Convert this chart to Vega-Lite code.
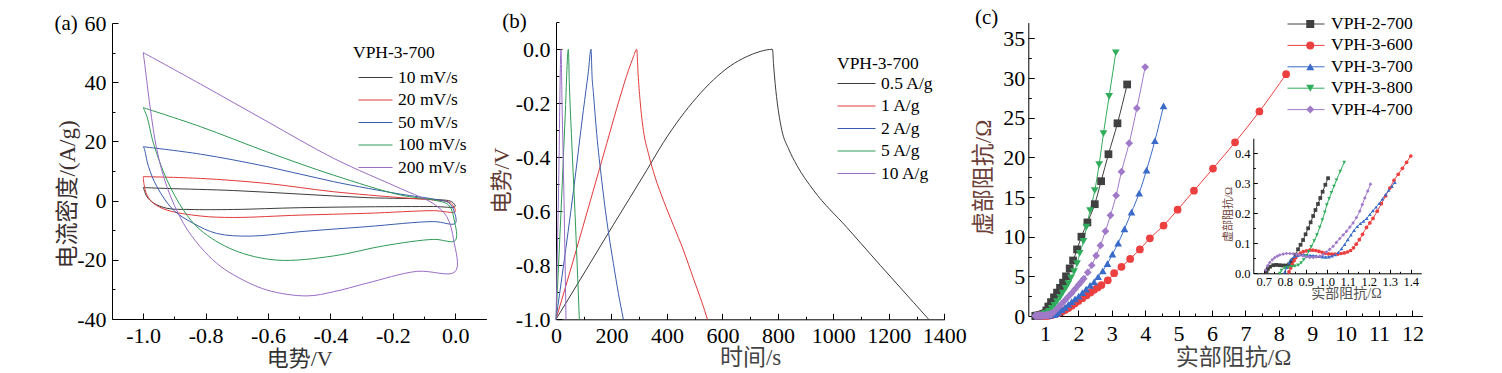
{
  "$schema": "https://vega.github.io/schema/vega-lite/v6.json",
  "width": 1502,
  "height": 373,
  "autosize": "none",
  "padding": 0,
  "background": "#ffffff",
  "config": {
    "view": {"stroke": null},
    "axis": {"grid": false, "domainColor": "#000000", "tickColor": "#000000", "labelColor": "#000000", "labelFont": "Liberation Serif", "titleFont": "Liberation Serif, Noto Sans CJK SC", "titleFontWeight": "normal", "labelFlush": false, "labelOverlap": false, "domainWidth": 1, "tickWidth": 1},
    "legend": {"labelFont": "Liberation Serif", "titleFont": "Liberation Serif", "labelColor": "#000000", "titleColor": "#000000", "titleFontWeight": "normal", "labelFontSize": 17.5, "titleFontSize": 17.5, "padding": 0, "clipHeight": 20, "orient": "none"}
  },
  "datasets": {
    "cv": [
      {"rate": "10 mV/s", "k": 1, "v": -1.0, "j": 4.4}, {"rate": "10 mV/s", "k": 2, "v": -0.924, "j": 4.1}, {"rate": "10 mV/s", "k": 3, "v": -0.71, "j": 3.4}, {"rate": "10 mV/s", "k": 4, "v": -0.497, "j": 2.2}, {"rate": "10 mV/s", "k": 5, "v": -0.283, "j": 1.0}, {"rate": "10 mV/s", "k": 6, "v": -0.069, "j": 0.4}, {"rate": "10 mV/s", "k": 7, "v": -0.011, "j": -0.4}, {"rate": "10 mV/s", "k": 8, "v": 0.0, "j": -2.0}, {"rate": "10 mV/s", "k": 9, "v": -0.069, "j": -2.0}, {"rate": "10 mV/s", "k": 10, "v": -0.283, "j": -2.1}, {"rate": "10 mV/s", "k": 11, "v": -0.5, "j": -2.4}, {"rate": "10 mV/s", "k": 12, "v": -0.71, "j": -3.0}, {"rate": "10 mV/s", "k": 13, "v": -0.85, "j": -3.0}, {"rate": "10 mV/s", "k": 14, "v": -0.924, "j": -2.6}, {"rate": "10 mV/s", "k": 15, "v": -0.967, "j": -0.8}, {"rate": "10 mV/s", "k": 16, "v": -0.988, "j": 1.3}, {"rate": "10 mV/s", "k": 17, "v": -0.997, "j": 3.6}, {"rate": "10 mV/s", "k": 18, "v": -1.0, "j": 4.4},
      {"rate": "20 mV/s", "k": 1, "v": -1.0, "j": 8.1}, {"rate": "20 mV/s", "k": 2, "v": -0.817, "j": 7.5}, {"rate": "20 mV/s", "k": 3, "v": -0.604, "j": 5.8}, {"rate": "20 mV/s", "k": 4, "v": -0.39, "j": 3.0}, {"rate": "20 mV/s", "k": 5, "v": -0.176, "j": 1.0}, {"rate": "20 mV/s", "k": 6, "v": -0.069, "j": 0.2}, {"rate": "20 mV/s", "k": 7, "v": -0.016, "j": -0.7}, {"rate": "20 mV/s", "k": 8, "v": 0.0, "j": -3.7}, {"rate": "20 mV/s", "k": 9, "v": -0.069, "j": -3.4}, {"rate": "20 mV/s", "k": 10, "v": -0.283, "j": -4.3}, {"rate": "20 mV/s", "k": 11, "v": -0.497, "j": -4.9}, {"rate": "20 mV/s", "k": 12, "v": -0.71, "j": -5.7}, {"rate": "20 mV/s", "k": 13, "v": -0.817, "j": -5.2}, {"rate": "20 mV/s", "k": 14, "v": -0.924, "j": -3.2}, {"rate": "20 mV/s", "k": 15, "v": -0.967, "j": -0.9}, {"rate": "20 mV/s", "k": 16, "v": -0.988, "j": 1.9}, {"rate": "20 mV/s", "k": 17, "v": -0.997, "j": 5.3}, {"rate": "20 mV/s", "k": 18, "v": -1.0, "j": 8.1},
      {"rate": "50 mV/s", "k": 1, "v": -1.0, "j": 18.2}, {"rate": "50 mV/s", "k": 2, "v": -0.817, "j": 15.7}, {"rate": "50 mV/s", "k": 3, "v": -0.604, "j": 11.5}, {"rate": "50 mV/s", "k": 4, "v": -0.39, "j": 6.4}, {"rate": "50 mV/s", "k": 5, "v": -0.176, "j": 2.2}, {"rate": "50 mV/s", "k": 6, "v": -0.069, "j": 0.5}, {"rate": "50 mV/s", "k": 7, "v": -0.021, "j": -0.7}, {"rate": "50 mV/s", "k": 8, "v": -0.003, "j": -3.7}, {"rate": "50 mV/s", "k": 9, "v": 0.0, "j": -7.7}, {"rate": "50 mV/s", "k": 10, "v": -0.069, "j": -7.1}, {"rate": "50 mV/s", "k": 11, "v": -0.283, "j": -8.8}, {"rate": "50 mV/s", "k": 12, "v": -0.497, "j": -10.5}, {"rate": "50 mV/s", "k": 13, "v": -0.657, "j": -12.0}, {"rate": "50 mV/s", "k": 14, "v": -0.764, "j": -11.1}, {"rate": "50 mV/s", "k": 15, "v": -0.839, "j": -7.7}, {"rate": "50 mV/s", "k": 16, "v": -0.903, "j": -3.2}, {"rate": "50 mV/s", "k": 17, "v": -0.956, "j": 4.7}, {"rate": "50 mV/s", "k": 18, "v": -0.983, "j": 11.5}, {"rate": "50 mV/s", "k": 19, "v": -0.997, "j": 17.7}, {"rate": "50 mV/s", "k": 20, "v": -1.0, "j": 18.2},
      {"rate": "100 mV/s", "k": 1, "v": -1.0, "j": 31.4}, {"rate": "100 mV/s", "k": 2, "v": -0.817, "j": 25.0}, {"rate": "100 mV/s", "k": 3, "v": -0.604, "j": 16.5}, {"rate": "100 mV/s", "k": 4, "v": -0.39, "j": 8.6}, {"rate": "100 mV/s", "k": 5, "v": -0.176, "j": 1.9}, {"rate": "100 mV/s", "k": 6, "v": -0.069, "j": 0.2}, {"rate": "100 mV/s", "k": 7, "v": -0.021, "j": -1.5}, {"rate": "100 mV/s", "k": 8, "v": -0.003, "j": -6.6}, {"rate": "100 mV/s", "k": 9, "v": 0.0, "j": -13.5}, {"rate": "100 mV/s", "k": 10, "v": -0.069, "j": -13.1}, {"rate": "100 mV/s", "k": 11, "v": -0.23, "j": -15.3}, {"rate": "100 mV/s", "k": 12, "v": -0.39, "j": -18.7}, {"rate": "100 mV/s", "k": 13, "v": -0.572, "j": -20.1}, {"rate": "100 mV/s", "k": 14, "v": -0.71, "j": -16.7}, {"rate": "100 mV/s", "k": 15, "v": -0.817, "j": -9.9}, {"rate": "100 mV/s", "k": 16, "v": -0.871, "j": -3.2}, {"rate": "100 mV/s", "k": 17, "v": -0.924, "j": 7.0}, {"rate": "100 mV/s", "k": 18, "v": -0.967, "j": 19.3}, {"rate": "100 mV/s", "k": 19, "v": -0.988, "j": 28.4}, {"rate": "100 mV/s", "k": 20, "v": -1.0, "j": 31.4},
      {"rate": "200 mV/s", "k": 1, "v": -1.0, "j": 50.0}, {"rate": "200 mV/s", "k": 2, "v": -0.817, "j": 39.4}, {"rate": "200 mV/s", "k": 3, "v": -0.604, "j": 26.8}, {"rate": "200 mV/s", "k": 4, "v": -0.39, "j": 14.3}, {"rate": "200 mV/s", "k": 5, "v": -0.176, "j": 4.1}, {"rate": "200 mV/s", "k": 6, "v": -0.069, "j": -1.1}, {"rate": "200 mV/s", "k": 7, "v": -0.027, "j": -5.4}, {"rate": "200 mV/s", "k": 8, "v": -0.005, "j": -13.3}, {"rate": "200 mV/s", "k": 9, "v": 0.0, "j": -24.0}, {"rate": "200 mV/s", "k": 10, "v": -0.123, "j": -23.9}, {"rate": "200 mV/s", "k": 11, "v": -0.283, "j": -27.9}, {"rate": "200 mV/s", "k": 12, "v": -0.39, "j": -30.8}, {"rate": "200 mV/s", "k": 13, "v": -0.475, "j": -32.2}, {"rate": "200 mV/s", "k": 14, "v": -0.604, "j": -30.2}, {"rate": "200 mV/s", "k": 15, "v": -0.71, "j": -25.1}, {"rate": "200 mV/s", "k": 16, "v": -0.764, "j": -21.2}, {"rate": "200 mV/s", "k": 17, "v": -0.817, "j": -15.6}, {"rate": "200 mV/s", "k": 18, "v": -0.871, "j": -7.7}, {"rate": "200 mV/s", "k": 19, "v": -0.924, "j": 4.7}, {"rate": "200 mV/s", "k": 20, "v": -0.956, "j": 17.1}, {"rate": "200 mV/s", "k": 21, "v": -0.978, "j": 31.7}, {"rate": "200 mV/s", "k": 22, "v": -0.994, "j": 45.2}, {"rate": "200 mV/s", "k": 23, "v": -1.0, "j": 50.0}
    ],
    "gcd": [
      {"c": "0.5 A/g", "t": 0, "u": -1.0}, {"c": "0.5 A/g", "t": 86.6, "u": -0.854}, {"c": "0.5 A/g", "t": 206.8, "u": -0.65}, {"c": "0.5 A/g", "t": 327.1, "u": -0.448}, {"c": "0.5 A/g", "t": 387.2, "u": -0.345}, {"c": "0.5 A/g", "t": 447.4, "u": -0.255}, {"c": "0.5 A/g", "t": 507.5, "u": -0.178}, {"c": "0.5 A/g", "t": 567.7, "u": -0.113}, {"c": "0.5 A/g", "t": 627.8, "u": -0.062}, {"c": "0.5 A/g", "t": 688, "u": -0.027}, {"c": "0.5 A/g", "t": 736, "u": -0.008}, {"c": "0.5 A/g", "t": 780.6, "u": 0.0}, {"c": "0.5 A/g", "t": 784.2, "u": -0.053}, {"c": "0.5 A/g", "t": 790.2, "u": -0.127}, {"c": "0.5 A/g", "t": 799.9, "u": -0.214}, {"c": "0.5 A/g", "t": 814.3, "u": -0.3}, {"c": "0.5 A/g", "t": 838.4, "u": -0.368}, {"c": "0.5 A/g", "t": 868.5, "u": -0.43}, {"c": "0.5 A/g", "t": 928.6, "u": -0.522}, {"c": "0.5 A/g", "t": 1048.9, "u": -0.66}, {"c": "0.5 A/g", "t": 1169.2, "u": -0.8}, {"c": "0.5 A/g", "t": 1289.5, "u": -0.938}, {"c": "0.5 A/g", "t": 1343.6, "u": -1.0},
      {"c": "1 A/g", "t": 0, "u": -1.0}, {"c": "1 A/g", "t": 62.5, "u": -0.781}, {"c": "1 A/g", "t": 122.7, "u": -0.565}, {"c": "1 A/g", "t": 182.9, "u": -0.349}, {"c": "1 A/g", "t": 231, "u": -0.177}, {"c": "1 A/g", "t": 261.1, "u": -0.078}, {"c": "1 A/g", "t": 279.1, "u": -0.028}, {"c": "1 A/g", "t": 291.2, "u": 0.0}, {"c": "1 A/g", "t": 295.9, "u": -0.09}, {"c": "1 A/g", "t": 303.1, "u": -0.189}, {"c": "1 A/g", "t": 315.1, "u": -0.3}, {"c": "1 A/g", "t": 333.2, "u": -0.386}, {"c": "1 A/g", "t": 357.2, "u": -0.473}, {"c": "1 A/g", "t": 387.2, "u": -0.559}, {"c": "1 A/g", "t": 423.3, "u": -0.652}, {"c": "1 A/g", "t": 459.4, "u": -0.744}, {"c": "1 A/g", "t": 495.5, "u": -0.849}, {"c": "1 A/g", "t": 525.5, "u": -0.935}, {"c": "1 A/g", "t": 546, "u": -1.0},
      {"c": "2 A/g", "t": 0, "u": -1.0}, {"c": "2 A/g", "t": 26.4, "u": -0.806}, {"c": "2 A/g", "t": 62.5, "u": -0.528}, {"c": "2 A/g", "t": 98.6, "u": -0.226}, {"c": "2 A/g", "t": 116.7, "u": -0.083}, {"c": "2 A/g", "t": 126.3, "u": 0.0}, {"c": "2 A/g", "t": 130, "u": -0.1}, {"c": "2 A/g", "t": 134.7, "u": -0.16}, {"c": "2 A/g", "t": 146.7, "u": -0.312}, {"c": "2 A/g", "t": 164.8, "u": -0.485}, {"c": "2 A/g", "t": 182.9, "u": -0.633}, {"c": "2 A/g", "t": 206.9, "u": -0.793}, {"c": "2 A/g", "t": 225, "u": -0.904}, {"c": "2 A/g", "t": 243, "u": -1.0},
      {"c": "5 A/g", "t": 0, "u": -1.0}, {"c": "5 A/g", "t": 20.4, "u": -0.547}, {"c": "5 A/g", "t": 32.5, "u": -0.262}, {"c": "5 A/g", "t": 44.5, "u": 0.0}, {"c": "5 A/g", "t": 48.1, "u": -0.127}, {"c": "5 A/g", "t": 56.5, "u": -0.336}, {"c": "5 A/g", "t": 68.6, "u": -0.608}, {"c": "5 A/g", "t": 84.2, "u": -1.0},
      {"c": "10 A/g", "t": 0, "u": -1.0}, {"c": "10 A/g", "t": 9.6, "u": -0.5}, {"c": "10 A/g", "t": 18, "u": 0.0}, {"c": "10 A/g", "t": 21.6, "u": -0.19}, {"c": "10 A/g", "t": 28.9, "u": -0.56}, {"c": "10 A/g", "t": 36.1, "u": -1.0}
    ],
    "eis": [
      {"s": "VPH-2-700", "zr": 0.713, "zi": 0.005}, {"s": "VPH-2-700", "zr": 0.72, "zi": 0.015}, {"s": "VPH-2-700", "zr": 0.73, "zi": 0.022}, {"s": "VPH-2-700", "zr": 0.745, "zi": 0.027}, {"s": "VPH-2-700", "zr": 0.76, "zi": 0.028}, {"s": "VPH-2-700", "zr": 0.775, "zi": 0.027}, {"s": "VPH-2-700", "zr": 0.79, "zi": 0.026}, {"s": "VPH-2-700", "zr": 0.805, "zi": 0.026}, {"s": "VPH-2-700", "zr": 0.82, "zi": 0.03}, {"s": "VPH-2-700", "zr": 0.83, "zi": 0.037}, {"s": "VPH-2-700", "zr": 0.84, "zi": 0.044}, {"s": "VPH-2-700", "zr": 0.852, "zi": 0.062}, {"s": "VPH-2-700", "zr": 0.863, "zi": 0.08}, {"s": "VPH-2-700", "zr": 0.875, "zi": 0.095}, {"s": "VPH-2-700", "zr": 0.887, "zi": 0.111}, {"s": "VPH-2-700", "zr": 0.899, "zi": 0.13}, {"s": "VPH-2-700", "zr": 0.911, "zi": 0.15}, {"s": "VPH-2-700", "zr": 0.923, "zi": 0.17}, {"s": "VPH-2-700", "zr": 0.935, "zi": 0.191}, {"s": "VPH-2-700", "zr": 0.946, "zi": 0.211}, {"s": "VPH-2-700", "zr": 0.958, "zi": 0.231}, {"s": "VPH-2-700", "zr": 0.969, "zi": 0.251}, {"s": "VPH-2-700", "zr": 0.98, "zi": 0.272}, {"s": "VPH-2-700", "zr": 0.993, "zi": 0.295}, {"s": "VPH-2-700", "zr": 1.006, "zi": 0.317},
      {"s": "VPH-2-700", "zr": 1.04, "zi": 0.7}, {"s": "VPH-2-700", "zr": 1.1, "zi": 1.2}, {"s": "VPH-2-700", "zr": 1.18, "zi": 1.75}, {"s": "VPH-2-700", "zr": 1.27, "zi": 2.35}, {"s": "VPH-2-700", "zr": 1.36, "zi": 2.95}, {"s": "VPH-2-700", "zr": 1.45, "zi": 3.55}, {"s": "VPH-2-700", "zr": 1.54, "zi": 4.2}, {"s": "VPH-2-700", "zr": 1.63, "zi": 5.0}, {"s": "VPH-2-700", "zr": 1.74, "zi": 6.0}, {"s": "VPH-2-700", "zr": 1.84, "zi": 7.0}, {"s": "VPH-2-700", "zr": 1.96, "zi": 8.4}, {"s": "VPH-2-700", "zr": 2.09, "zi": 10.0}, {"s": "VPH-2-700", "zr": 2.27, "zi": 11.8}, {"s": "VPH-2-700", "zr": 2.49, "zi": 14.1}, {"s": "VPH-2-700", "zr": 2.68, "zi": 17.0}, {"s": "VPH-2-700", "zr": 2.9, "zi": 20.4}, {"s": "VPH-2-700", "zr": 3.17, "zi": 24.3}, {"s": "VPH-2-700", "zr": 3.46, "zi": 29.2},
      {"s": "VPH-3-600", "zr": 0.82, "zi": 0.005}, {"s": "VPH-3-600", "zr": 0.828, "zi": 0.018}, {"s": "VPH-3-600", "zr": 0.836, "zi": 0.03}, {"s": "VPH-3-600", "zr": 0.844, "zi": 0.042}, {"s": "VPH-3-600", "zr": 0.852, "zi": 0.052}, {"s": "VPH-3-600", "zr": 0.862, "zi": 0.06}, {"s": "VPH-3-600", "zr": 0.874, "zi": 0.067}, {"s": "VPH-3-600", "zr": 0.888, "zi": 0.072}, {"s": "VPH-3-600", "zr": 0.903, "zi": 0.075}, {"s": "VPH-3-600", "zr": 0.918, "zi": 0.077}, {"s": "VPH-3-600", "zr": 0.933, "zi": 0.077}, {"s": "VPH-3-600", "zr": 0.948, "zi": 0.076}, {"s": "VPH-3-600", "zr": 0.963, "zi": 0.073}, {"s": "VPH-3-600", "zr": 0.978, "zi": 0.07}, {"s": "VPH-3-600", "zr": 0.993, "zi": 0.067}, {"s": "VPH-3-600", "zr": 1.008, "zi": 0.065}, {"s": "VPH-3-600", "zr": 1.023, "zi": 0.064}, {"s": "VPH-3-600", "zr": 1.038, "zi": 0.064}, {"s": "VPH-3-600", "zr": 1.053, "zi": 0.064}, {"s": "VPH-3-600", "zr": 1.068, "zi": 0.066}, {"s": "VPH-3-600", "zr": 1.083, "zi": 0.068}, {"s": "VPH-3-600", "zr": 1.098, "zi": 0.071}, {"s": "VPH-3-600", "zr": 1.113, "zi": 0.076}, {"s": "VPH-3-600", "zr": 1.127, "zi": 0.085}, {"s": "VPH-3-600", "zr": 1.14, "zi": 0.097}, {"s": "VPH-3-600", "zr": 1.155, "zi": 0.112}, {"s": "VPH-3-600", "zr": 1.17, "zi": 0.13}, {"s": "VPH-3-600", "zr": 1.189, "zi": 0.153}, {"s": "VPH-3-600", "zr": 1.205, "zi": 0.168}, {"s": "VPH-3-600", "zr": 1.22, "zi": 0.183}, {"s": "VPH-3-600", "zr": 1.24, "zi": 0.207}, {"s": "VPH-3-600", "zr": 1.26, "zi": 0.232}, {"s": "VPH-3-600", "zr": 1.28, "zi": 0.258}, {"s": "VPH-3-600", "zr": 1.3, "zi": 0.284}, {"s": "VPH-3-600", "zr": 1.32, "zi": 0.31}, {"s": "VPH-3-600", "zr": 1.34, "zi": 0.33}, {"s": "VPH-3-600", "zr": 1.36, "zi": 0.35}, {"s": "VPH-3-600", "zr": 1.38, "zi": 0.37}, {"s": "VPH-3-600", "zr": 1.4, "zi": 0.391},
      {"s": "VPH-3-600", "zr": 1.5, "zi": 0.55}, {"s": "VPH-3-600", "zr": 1.6, "zi": 0.75}, {"s": "VPH-3-600", "zr": 1.7, "zi": 1.0}, {"s": "VPH-3-600", "zr": 1.8, "zi": 1.3}, {"s": "VPH-3-600", "zr": 1.9, "zi": 1.6}, {"s": "VPH-3-600", "zr": 2.0, "zi": 1.9}, {"s": "VPH-3-600", "zr": 2.12, "zi": 2.25}, {"s": "VPH-3-600", "zr": 2.24, "zi": 2.6}, {"s": "VPH-3-600", "zr": 2.36, "zi": 2.95}, {"s": "VPH-3-600", "zr": 2.47, "zi": 3.3}, {"s": "VPH-3-600", "zr": 2.58, "zi": 3.6}, {"s": "VPH-3-600", "zr": 2.69, "zi": 3.9}, {"s": "VPH-3-600", "zr": 2.88, "zi": 4.5}, {"s": "VPH-3-600", "zr": 3.07, "zi": 5.4}, {"s": "VPH-3-600", "zr": 3.29, "zi": 6.2}, {"s": "VPH-3-600", "zr": 3.55, "zi": 7.2}, {"s": "VPH-3-600", "zr": 3.84, "zi": 8.4}, {"s": "VPH-3-600", "zr": 4.14, "zi": 9.8}, {"s": "VPH-3-600", "zr": 4.55, "zi": 11.4}, {"s": "VPH-3-600", "zr": 4.97, "zi": 13.4}, {"s": "VPH-3-600", "zr": 5.46, "zi": 15.8}, {"s": "VPH-3-600", "zr": 6.03, "zi": 18.6}, {"s": "VPH-3-600", "zr": 6.69, "zi": 21.9}, {"s": "VPH-3-600", "zr": 7.42, "zi": 25.8}, {"s": "VPH-3-600", "zr": 8.22, "zi": 30.5},
      {"s": "VPH-3-700", "zr": 0.8, "zi": 0.005}, {"s": "VPH-3-700", "zr": 0.81, "zi": 0.02}, {"s": "VPH-3-700", "zr": 0.82, "zi": 0.035}, {"s": "VPH-3-700", "zr": 0.83, "zi": 0.047}, {"s": "VPH-3-700", "zr": 0.845, "zi": 0.056}, {"s": "VPH-3-700", "zr": 0.86, "zi": 0.06}, {"s": "VPH-3-700", "zr": 0.875, "zi": 0.062}, {"s": "VPH-3-700", "zr": 0.89, "zi": 0.062}, {"s": "VPH-3-700", "zr": 0.905, "zi": 0.061}, {"s": "VPH-3-700", "zr": 0.92, "zi": 0.06}, {"s": "VPH-3-700", "zr": 0.935, "zi": 0.059}, {"s": "VPH-3-700", "zr": 0.95, "zi": 0.058}, {"s": "VPH-3-700", "zr": 0.965, "zi": 0.056}, {"s": "VPH-3-700", "zr": 0.98, "zi": 0.055}, {"s": "VPH-3-700", "zr": 0.995, "zi": 0.054}, {"s": "VPH-3-700", "zr": 1.01, "zi": 0.055}, {"s": "VPH-3-700", "zr": 1.025, "zi": 0.058}, {"s": "VPH-3-700", "zr": 1.04, "zi": 0.062}, {"s": "VPH-3-700", "zr": 1.055, "zi": 0.07}, {"s": "VPH-3-700", "zr": 1.07, "zi": 0.082}, {"s": "VPH-3-700", "zr": 1.085, "zi": 0.096}, {"s": "VPH-3-700", "zr": 1.1, "zi": 0.112}, {"s": "VPH-3-700", "zr": 1.115, "zi": 0.128}, {"s": "VPH-3-700", "zr": 1.13, "zi": 0.143}, {"s": "VPH-3-700", "zr": 1.145, "zi": 0.156}, {"s": "VPH-3-700", "zr": 1.16, "zi": 0.166}, {"s": "VPH-3-700", "zr": 1.175, "zi": 0.174}, {"s": "VPH-3-700", "zr": 1.19, "zi": 0.183}, {"s": "VPH-3-700", "zr": 1.205, "zi": 0.196}, {"s": "VPH-3-700", "zr": 1.22, "zi": 0.209}, {"s": "VPH-3-700", "zr": 1.235, "zi": 0.221}, {"s": "VPH-3-700", "zr": 1.25, "zi": 0.233}, {"s": "VPH-3-700", "zr": 1.265, "zi": 0.248}, {"s": "VPH-3-700", "zr": 1.28, "zi": 0.262}, {"s": "VPH-3-700", "zr": 1.295, "zi": 0.277}, {"s": "VPH-3-700", "zr": 1.31, "zi": 0.29}, {"s": "VPH-3-700", "zr": 1.324, "zi": 0.303},
      {"s": "VPH-3-700", "zr": 1.4, "zi": 0.5}, {"s": "VPH-3-700", "zr": 1.5, "zi": 0.8}, {"s": "VPH-3-700", "zr": 1.6, "zi": 1.1}, {"s": "VPH-3-700", "zr": 1.7, "zi": 1.45}, {"s": "VPH-3-700", "zr": 1.8, "zi": 1.8}, {"s": "VPH-3-700", "zr": 1.9, "zi": 2.15}, {"s": "VPH-3-700", "zr": 2.01, "zi": 2.5}, {"s": "VPH-3-700", "zr": 2.12, "zi": 2.95}, {"s": "VPH-3-700", "zr": 2.23, "zi": 3.4}, {"s": "VPH-3-700", "zr": 2.35, "zi": 3.85}, {"s": "VPH-3-700", "zr": 2.47, "zi": 4.3}, {"s": "VPH-3-700", "zr": 2.59, "zi": 4.95}, {"s": "VPH-3-700", "zr": 2.73, "zi": 5.7}, {"s": "VPH-3-700", "zr": 2.87, "zi": 6.6}, {"s": "VPH-3-700", "zr": 3.02, "zi": 7.8}, {"s": "VPH-3-700", "zr": 3.19, "zi": 9.2}, {"s": "VPH-3-700", "zr": 3.38, "zi": 11.0}, {"s": "VPH-3-700", "zr": 3.59, "zi": 13.1}, {"s": "VPH-3-700", "zr": 3.82, "zi": 15.5}, {"s": "VPH-3-700", "zr": 4.04, "zi": 18.4}, {"s": "VPH-3-700", "zr": 4.29, "zi": 22.1}, {"s": "VPH-3-700", "zr": 4.55, "zi": 26.5},
      {"s": "VPH-3-800", "zr": 0.776, "zi": 0.0}, {"s": "VPH-3-800", "zr": 0.784, "zi": 0.01}, {"s": "VPH-3-800", "zr": 0.8, "zi": 0.018}, {"s": "VPH-3-800", "zr": 0.816, "zi": 0.02}, {"s": "VPH-3-800", "zr": 0.832, "zi": 0.022}, {"s": "VPH-3-800", "zr": 0.848, "zi": 0.024}, {"s": "VPH-3-800", "zr": 0.864, "zi": 0.027}, {"s": "VPH-3-800", "zr": 0.878, "zi": 0.035}, {"s": "VPH-3-800", "zr": 0.89, "zi": 0.045}, {"s": "VPH-3-800", "zr": 0.902, "zi": 0.058}, {"s": "VPH-3-800", "zr": 0.914, "zi": 0.072}, {"s": "VPH-3-800", "zr": 0.926, "zi": 0.089}, {"s": "VPH-3-800", "zr": 0.94, "zi": 0.108}, {"s": "VPH-3-800", "zr": 0.953, "zi": 0.128}, {"s": "VPH-3-800", "zr": 0.966, "zi": 0.153}, {"s": "VPH-3-800", "zr": 0.979, "zi": 0.178}, {"s": "VPH-3-800", "zr": 0.99, "zi": 0.203}, {"s": "VPH-3-800", "zr": 1.0, "zi": 0.228}, {"s": "VPH-3-800", "zr": 1.011, "zi": 0.249}, {"s": "VPH-3-800", "zr": 1.022, "zi": 0.269}, {"s": "VPH-3-800", "zr": 1.034, "zi": 0.29}, {"s": "VPH-3-800", "zr": 1.046, "zi": 0.311}, {"s": "VPH-3-800", "zr": 1.064, "zi": 0.34}, {"s": "VPH-3-800", "zr": 1.083, "zi": 0.37},
      {"s": "VPH-3-800", "zr": 1.12, "zi": 0.6}, {"s": "VPH-3-800", "zr": 1.2, "zi": 0.95}, {"s": "VPH-3-800", "zr": 1.28, "zi": 1.35}, {"s": "VPH-3-800", "zr": 1.36, "zi": 1.8}, {"s": "VPH-3-800", "zr": 1.45, "zi": 2.35}, {"s": "VPH-3-800", "zr": 1.53, "zi": 2.9}, {"s": "VPH-3-800", "zr": 1.62, "zi": 3.5}, {"s": "VPH-3-800", "zr": 1.7, "zi": 4.1}, {"s": "VPH-3-800", "zr": 1.78, "zi": 4.8}, {"s": "VPH-3-800", "zr": 1.87, "zi": 5.6}, {"s": "VPH-3-800", "zr": 1.96, "zi": 6.6}, {"s": "VPH-3-800", "zr": 2.04, "zi": 7.9}, {"s": "VPH-3-800", "zr": 2.15, "zi": 9.4}, {"s": "VPH-3-800", "zr": 2.24, "zi": 11.2}, {"s": "VPH-3-800", "zr": 2.35, "zi": 13.3}, {"s": "VPH-3-800", "zr": 2.49, "zi": 15.8}, {"s": "VPH-3-800", "zr": 2.62, "zi": 19.1}, {"s": "VPH-3-800", "zr": 2.75, "zi": 23.0}, {"s": "VPH-3-800", "zr": 2.92, "zi": 27.7}, {"s": "VPH-3-800", "zr": 3.12, "zi": 33.2},
      {"s": "VPH-4-700", "zr": 0.708, "zi": 0.011}, {"s": "VPH-4-700", "zr": 0.718, "zi": 0.025}, {"s": "VPH-4-700", "zr": 0.728, "zi": 0.036}, {"s": "VPH-4-700", "zr": 0.74, "zi": 0.045}, {"s": "VPH-4-700", "zr": 0.752, "zi": 0.052}, {"s": "VPH-4-700", "zr": 0.764, "zi": 0.057}, {"s": "VPH-4-700", "zr": 0.776, "zi": 0.061}, {"s": "VPH-4-700", "zr": 0.792, "zi": 0.064}, {"s": "VPH-4-700", "zr": 0.808, "zi": 0.066}, {"s": "VPH-4-700", "zr": 0.824, "zi": 0.066}, {"s": "VPH-4-700", "zr": 0.84, "zi": 0.065}, {"s": "VPH-4-700", "zr": 0.856, "zi": 0.063}, {"s": "VPH-4-700", "zr": 0.871, "zi": 0.061}, {"s": "VPH-4-700", "zr": 0.887, "zi": 0.058}, {"s": "VPH-4-700", "zr": 0.903, "zi": 0.055}, {"s": "VPH-4-700", "zr": 0.919, "zi": 0.053}, {"s": "VPH-4-700", "zr": 0.935, "zi": 0.053}, {"s": "VPH-4-700", "zr": 0.951, "zi": 0.055}, {"s": "VPH-4-700", "zr": 0.967, "zi": 0.057}, {"s": "VPH-4-700", "zr": 0.983, "zi": 0.063}, {"s": "VPH-4-700", "zr": 0.998, "zi": 0.071}, {"s": "VPH-4-700", "zr": 1.014, "zi": 0.08}, {"s": "VPH-4-700", "zr": 1.03, "zi": 0.09}, {"s": "VPH-4-700", "zr": 1.046, "zi": 0.103}, {"s": "VPH-4-700", "zr": 1.062, "zi": 0.116}, {"s": "VPH-4-700", "zr": 1.078, "zi": 0.128}, {"s": "VPH-4-700", "zr": 1.094, "zi": 0.14}, {"s": "VPH-4-700", "zr": 1.11, "zi": 0.154}, {"s": "VPH-4-700", "zr": 1.125, "zi": 0.168}, {"s": "VPH-4-700", "zr": 1.141, "zi": 0.186}, {"s": "VPH-4-700", "zr": 1.157, "zi": 0.207}, {"s": "VPH-4-700", "zr": 1.169, "zi": 0.229}, {"s": "VPH-4-700", "zr": 1.181, "zi": 0.251}, {"s": "VPH-4-700", "zr": 1.195, "zi": 0.274}, {"s": "VPH-4-700", "zr": 1.208, "zi": 0.297},
      {"s": "VPH-4-700", "zr": 1.3, "zi": 0.65}, {"s": "VPH-4-700", "zr": 1.4, "zi": 1.1}, {"s": "VPH-4-700", "zr": 1.5, "zi": 1.55}, {"s": "VPH-4-700", "zr": 1.6, "zi": 2.0}, {"s": "VPH-4-700", "zr": 1.7, "zi": 2.45}, {"s": "VPH-4-700", "zr": 1.8, "zi": 2.9}, {"s": "VPH-4-700", "zr": 1.9, "zi": 3.4}, {"s": "VPH-4-700", "zr": 2.0, "zi": 3.9}, {"s": "VPH-4-700", "zr": 2.08, "zi": 4.3}, {"s": "VPH-4-700", "zr": 2.16, "zi": 4.7}, {"s": "VPH-4-700", "zr": 2.28, "zi": 5.5}, {"s": "VPH-4-700", "zr": 2.4, "zi": 6.4}, {"s": "VPH-4-700", "zr": 2.53, "zi": 7.6}, {"s": "VPH-4-700", "zr": 2.66, "zi": 8.9}, {"s": "VPH-4-700", "zr": 2.81, "zi": 10.7}, {"s": "VPH-4-700", "zr": 2.96, "zi": 12.7}, {"s": "VPH-4-700", "zr": 3.13, "zi": 15.2}, {"s": "VPH-4-700", "zr": 3.29, "zi": 18.2}, {"s": "VPH-4-700", "zr": 3.52, "zi": 21.8}, {"s": "VPH-4-700", "zr": 3.75, "zi": 26.2}, {"s": "VPH-4-700", "zr": 4.0, "zi": 31.4}
    ]
  },
  "layer": [
    {
      "resolve": {"axis": {"x": "independent", "y": "independent"}},
      "layer": [
        {
          "data": {"name": "cv"},
          "mark": {"type": "line", "strokeWidth": 1, "interpolate": "catmull-rom"},
          "encoding": {
            "x": {"field": "v", "type": "quantitative",
              "scale": {"domain": [-1.1, 0.1], "range": [112, 486.4], "nice": false, "zero": false},
              "axis": {"orient": "bottom", "offset": -54, "title": "电势/V", "values": [-1.0, -0.8, -0.6, -0.4, -0.2, 0.0],
                "labelExpr": "(datum.value < -0.001 ? '-' : '') + format(abs(datum.value), '.1f')",
                "tickSize": -6, "labelPadding": 12.5, "labelFontSize": 22, "titleFontSize": 22, "titleColor": "#333333", "titleY": 39, "titleBaseline": "middle"}},
            "y": {"field": "j", "type": "quantitative",
              "scale": {"domain": [-40, 60], "range": [319, 23], "nice": false, "zero": false},
              "axis": {"orient": "left", "offset": -112, "title": "电流密度/(A/g)", "values": [-40, -20, 0, 20, 40, 60],
                "labelExpr": "(datum.value < 0 ? '-' : '') + abs(datum.value)",
                "tickSize": -6, "labelPadding": 12, "labelFontSize": 22, "titleFontSize": 23, "titleColor": "#3b2f2f", "titleX": -45, "titleY": 194, "titleBaseline": "middle", "titleAlign": "center"}},
            "color": {"field": "rate", "type": "nominal",
              "scale": {"domain": ["10 mV/s", "20 mV/s", "50 mV/s", "100 mV/s", "200 mV/s"], "range": ["#3c3c3c", "#e23a3a", "#3a5cae", "#2e9a55", "#9a6cc6"]},
              "legend": {"orient": "none", "legendX": 353, "legendY": 44, "title": "VPH-3-700", "titlePadding": 6, "symbolType": "stroke", "symbolSize": 1156, "symbolStrokeWidth": 1, "symbolOffset": 5, "labelOffset": 5, "rowPadding": 2.5, "clipHeight": 20}},
            "order": {"field": "k", "type": "quantitative"}
          }
        },
        {
          "data": {"values": [{}]},
          "mark": {"type": "text", "text": "(a)", "fontSize": 21, "font": "Liberation Serif", "align": "center", "baseline": "middle", "color": "#000000"},
          "encoding": {
            "x": {"datum": -1.247, "type": "quantitative", "scale": {"domain": [-1.1, 0.1], "range": [112, 486.4], "nice": false, "zero": false},
              "axis": {"orient": "bottom", "offset": -54, "title": null, "values": [-0.9, -0.7, -0.5, -0.3, -0.1], "labels": false, "domain": false, "tickSize": -3}},
            "y": {"datum": 59.7, "type": "quantitative", "scale": {"domain": [-40, 60], "range": [319, 23], "nice": false, "zero": false},
              "axis": {"orient": "left", "offset": -112, "title": null, "values": [-30, -10, 10, 30, 50], "labels": false, "domain": false, "tickSize": -3}}
          }
        }
      ]
    },
    {
      "resolve": {"axis": {"x": "independent", "y": "independent"}},
      "layer": [
        {
          "data": {"name": "gcd"},
          "mark": {"type": "line", "strokeWidth": 1, "interpolate": "monotone"},
          "encoding": {
            "x": {"field": "t", "type": "quantitative",
              "scale": {"domain": [0, 1400], "range": [556, 944.3], "nice": false, "zero": false},
              "axis": {"orient": "bottom", "offset": -53.7, "title": "时间/s", "values": [0, 200, 400, 600, 800, 1000, 1200, 1400], "format": "d",
                "tickSize": -6, "labelPadding": 12.5, "labelFontSize": 22, "titleFontSize": 23, "titleColor": "#444444", "titleY": 38.5, "titleBaseline": "middle"}},
            "y": {"field": "u", "type": "quantitative",
              "scale": {"domain": [-1.0, 0.1], "range": [319.3, 22.3], "nice": false, "zero": false},
              "axis": {"orient": "left", "offset": -556, "title": "电势/V", "values": [-1.0, -0.8, -0.6, -0.4, -0.2, 0.0],
                "labelExpr": "(datum.value < -0.001 ? '-' : '') + format(abs(datum.value), '.1f')",
                "tickSize": -6, "labelPadding": 12, "labelFontSize": 22, "titleFontSize": 22, "titleColor": "#5e3a33", "titleX": -55, "titleY": 180, "titleBaseline": "middle", "titleAlign": "center"}},
            "color": {"field": "c", "type": "nominal",
              "scale": {"domain": ["0.5 A/g", "1 A/g", "2 A/g", "5 A/g", "10 A/g"], "range": ["#3c3c3c", "#e23a3a", "#3a5cae", "#2e9a55", "#9a6cc6"]},
              "legend": {"orient": "none", "legendX": 837, "legendY": 54.5, "title": "VPH-3-700", "titlePadding": 1.5, "symbolType": "stroke", "symbolSize": 1444, "symbolStrokeWidth": 1, "symbolOffset": 0, "labelOffset": 5, "rowPadding": 2.5, "clipHeight": 20}}
          }
        },
        {
          "data": {"values": [{}]},
          "mark": {"type": "text", "text": "(b)", "fontSize": 21, "font": "Liberation Serif", "align": "center", "baseline": "middle", "color": "#000000"},
          "encoding": {
            "x": {"datum": -150, "type": "quantitative", "scale": {"domain": [0, 1400], "range": [556, 944.3], "nice": false, "zero": false},
              "axis": {"orient": "bottom", "offset": -53.7, "title": null, "values": [100, 300, 500, 700, 900, 1100, 1300], "labels": false, "domain": false, "tickSize": -3}},
            "y": {"datum": 0.101, "type": "quantitative", "scale": {"domain": [-1.0, 0.1], "range": [319.3, 22.3], "nice": false, "zero": false},
              "axis": {"orient": "left", "offset": -556, "title": null, "values": [-0.9, -0.7, -0.5, -0.3, -0.1, 0.1], "labels": false, "domain": false, "tickSize": -3}}
          }
        }
      ]
    },
    {
      "resolve": {"axis": {"x": "independent", "y": "independent"}},
      "layer": [
        {
          "data": {"name": "eis"},
          "mark": {"type": "line", "strokeWidth": 1, "interpolate": "monotone"},
          "encoding": {
            "x": {"field": "zr", "type": "quantitative",
              "scale": {"domain": [0.5, 12.3], "range": [1028.3, 1422.4], "nice": false, "zero": false},
              "axis": {"orient": "bottom", "offset": -57, "title": "实部阻抗/Ω", "values": [1, 2, 3, 4, 5, 6, 7, 8, 9, 10, 11, 12],
                "tickSize": -6, "labelPadding": 13, "labelFontSize": 22, "titleFontSize": 23, "titleColor": "#444444", "titleX": 1233, "titleY": 41, "titleBaseline": "middle"}},
            "y": {"field": "zi", "type": "quantitative",
              "scale": {"domain": [0, 37], "range": [316, 22.6], "nice": false, "zero": false},
              "axis": {"orient": "left", "offset": -1028.3, "title": "虚部阻抗/Ω", "values": [0, 5, 10, 15, 20, 25, 30, 35],
                "tickSize": -6, "labelPadding": 9.5, "labelFontSize": 22, "titleFontSize": 23, "titleColor": "#6a4038", "titleX": -45, "titleY": 177, "titleBaseline": "middle", "titleAlign": "center"}},
            "color": {"field": "s", "type": "nominal",
              "scale": {"domain": ["VPH-2-700", "VPH-3-600", "VPH-3-700", "VPH-3-800", "VPH-4-700"], "range": ["#404040", "#ec4040", "#3a6bc8", "#30ad5c", "#a07ac8"]},
              "legend": {"orient": "none", "legendX": 1287, "legendY": 14, "title": null, "symbolType": "stroke", "symbolSize": 1369, "symbolStrokeWidth": 1, "labelOffset": 6, "rowPadding": 1.4, "clipHeight": 20}}
          }
        },
        {
          "data": {"name": "eis"},
          "mark": {"type": "point", "filled": true, "size": 60, "opacity": 1},
          "encoding": {
            "x": {"field": "zr", "type": "quantitative", "scale": {"domain": [0.5, 12.3], "range": [1028.3, 1422.4], "nice": false, "zero": false},
              "axis": {"orient": "bottom", "offset": -57, "title": null, "values": [1.5, 2.5, 3.5, 4.5, 5.5, 6.5, 7.5, 8.5, 9.5, 10.5, 11.5], "labels": false, "domain": false, "tickSize": -3}},
            "y": {"field": "zi", "type": "quantitative", "scale": {"domain": [0, 37], "range": [316, 22.6], "nice": false, "zero": false},
              "axis": {"orient": "left", "offset": -1028.3, "title": null, "values": [2.5, 7.5, 12.5, 17.5, 22.5, 27.5, 32.5], "labels": false, "domain": false, "tickSize": -3}},
            "fill": {"field": "s", "type": "nominal",
              "scale": {"domain": ["VPH-2-700", "VPH-3-600", "VPH-3-700", "VPH-3-800", "VPH-4-700", "zz"], "range": ["#404040", "#ec4040", "#3a6bc8", "#30ad5c", "#a07ac8", "rgba(0,0,0,0)"]},
              "legend": {"orient": "none", "legendX": 1301.5, "legendY": 14, "title": null, "symbolSize": 64, "symbolStrokeWidth": 0, "labelExpr": "''", "rowPadding": 1.4, "clipHeight": 20}},
            "shape": {"field": "s", "type": "nominal",
              "scale": {"domain": ["VPH-2-700", "VPH-3-600", "VPH-3-700", "VPH-3-800", "VPH-4-700", "zz"], "range": ["square", "circle", "triangle-up", "triangle-down", "diamond", "circle"]},
              "legend": {"orient": "none", "legendX": 1301.5, "legendY": 14, "title": null, "symbolSize": 64, "symbolStrokeWidth": 0, "labelExpr": "''", "rowPadding": 1.4, "clipHeight": 20}}
          }
        },
        {
          "data": {"values": [{}]},
          "mark": {"type": "text", "text": "(c)", "fontSize": 21, "font": "Liberation Serif", "align": "center", "baseline": "middle", "color": "#000000"},
          "encoding": {
            "x": {"datum": -0.75, "type": "quantitative", "scale": {"domain": [0.5, 12.3], "range": [1028.3, 1422.4], "nice": false, "zero": false}, "axis": null},
            "y": {"datum": 37.6, "type": "quantitative", "scale": {"domain": [0, 37], "range": [316, 22.6], "nice": false, "zero": false}, "axis": null}
          }
        }
      ]
    },
    {
      "data": {"name": "eis"},
      "transform": [{"filter": "datum.zi <= 0.4 && datum.zr <= 1.45"}],
      "resolve": {"axis": {"x": "independent", "y": "independent"}},
      "layer": [
        {
          "mark": {"type": "line", "strokeWidth": 1, "interpolate": "monotone"},
          "encoding": {
            "x": {"field": "zr", "type": "quantitative",
              "scale": {"domain": [0.65, 1.45], "range": [1253.3, 1421.3], "nice": false, "zero": false},
              "axis": {"orient": "bottom", "offset": -99.7, "title": "实部阻抗/Ω", "values": [0.7, 0.8, 0.9, 1.0, 1.1, 1.2, 1.3, 1.4],
                "labelExpr": "format(datum.value, '.1f')",
                "tickSize": -4, "labelPadding": 6, "labelFontSize": 12.5, "titleFontSize": 14, "titleColor": "#555555", "titleX": 1346, "titleY": 20, "titleBaseline": "middle"}},
            "y": {"field": "zi", "type": "quantitative",
              "scale": {"domain": [0, 0.45], "range": [273.3, 138.3], "nice": false, "zero": false},
              "axis": {"orient": "left", "offset": -1253.3, "title": "虚部阻抗/Ω", "values": [0, 0.1, 0.2, 0.3, 0.4],
                "labelExpr": "format(datum.value, '.1f')",
                "tickSize": -4, "labelPadding": 7.3, "labelFontSize": 12.5, "titleFontSize": 11, "titleColor": "#6a4038", "titleX": -25, "titleY": 214, "titleBaseline": "middle", "titleAlign": "center"}},
            "color": {"field": "s", "type": "nominal",
              "scale": {"domain": ["VPH-2-700", "VPH-3-600", "VPH-3-700", "VPH-3-800", "VPH-4-700"], "range": ["#404040", "#ec4040", "#3a6bc8", "#30ad5c", "#a07ac8"]},
              "legend": null}
          }
        },
        {
          "mark": {"type": "point", "filled": true, "size": 14, "opacity": 1},
          "encoding": {
            "x": {"field": "zr", "type": "quantitative", "scale": {"domain": [0.65, 1.45], "range": [1253.3, 1421.3], "nice": false, "zero": false},
              "axis": {"orient": "bottom", "offset": -99.7, "title": null, "values": [0.75, 0.85, 0.95, 1.05, 1.15, 1.25, 1.35], "labels": false, "domain": false, "tickSize": -2}},
            "y": {"field": "zi", "type": "quantitative", "scale": {"domain": [0, 0.45], "range": [273.3, 138.3], "nice": false, "zero": false},
              "axis": {"orient": "left", "offset": -1253.3, "title": null, "values": [0.05, 0.15, 0.25, 0.35], "labels": false, "domain": false, "tickSize": -2}},
            "fill": {"field": "s", "type": "nominal",
              "scale": {"domain": ["VPH-2-700", "VPH-3-600", "VPH-3-700", "VPH-3-800", "VPH-4-700"], "range": ["#404040", "#ec4040", "#3a6bc8", "#30ad5c", "#a07ac8"]},
              "legend": null},
            "shape": {"field": "s", "type": "nominal",
              "scale": {"domain": ["VPH-2-700", "VPH-3-600", "VPH-3-700", "VPH-3-800", "VPH-4-700"], "range": ["square", "circle", "triangle-up", "triangle-down", "diamond"]},
              "legend": null}
          }
        }
      ]
    }
  ],
  "resolve": {
    "scale": {"x": "independent", "y": "independent", "color": "independent", "fill": "independent", "shape": "independent"},
    "axis": {"x": "independent", "y": "independent"},
    "legend": {"color": "independent", "fill": "independent", "shape": "independent"}
  }
}
